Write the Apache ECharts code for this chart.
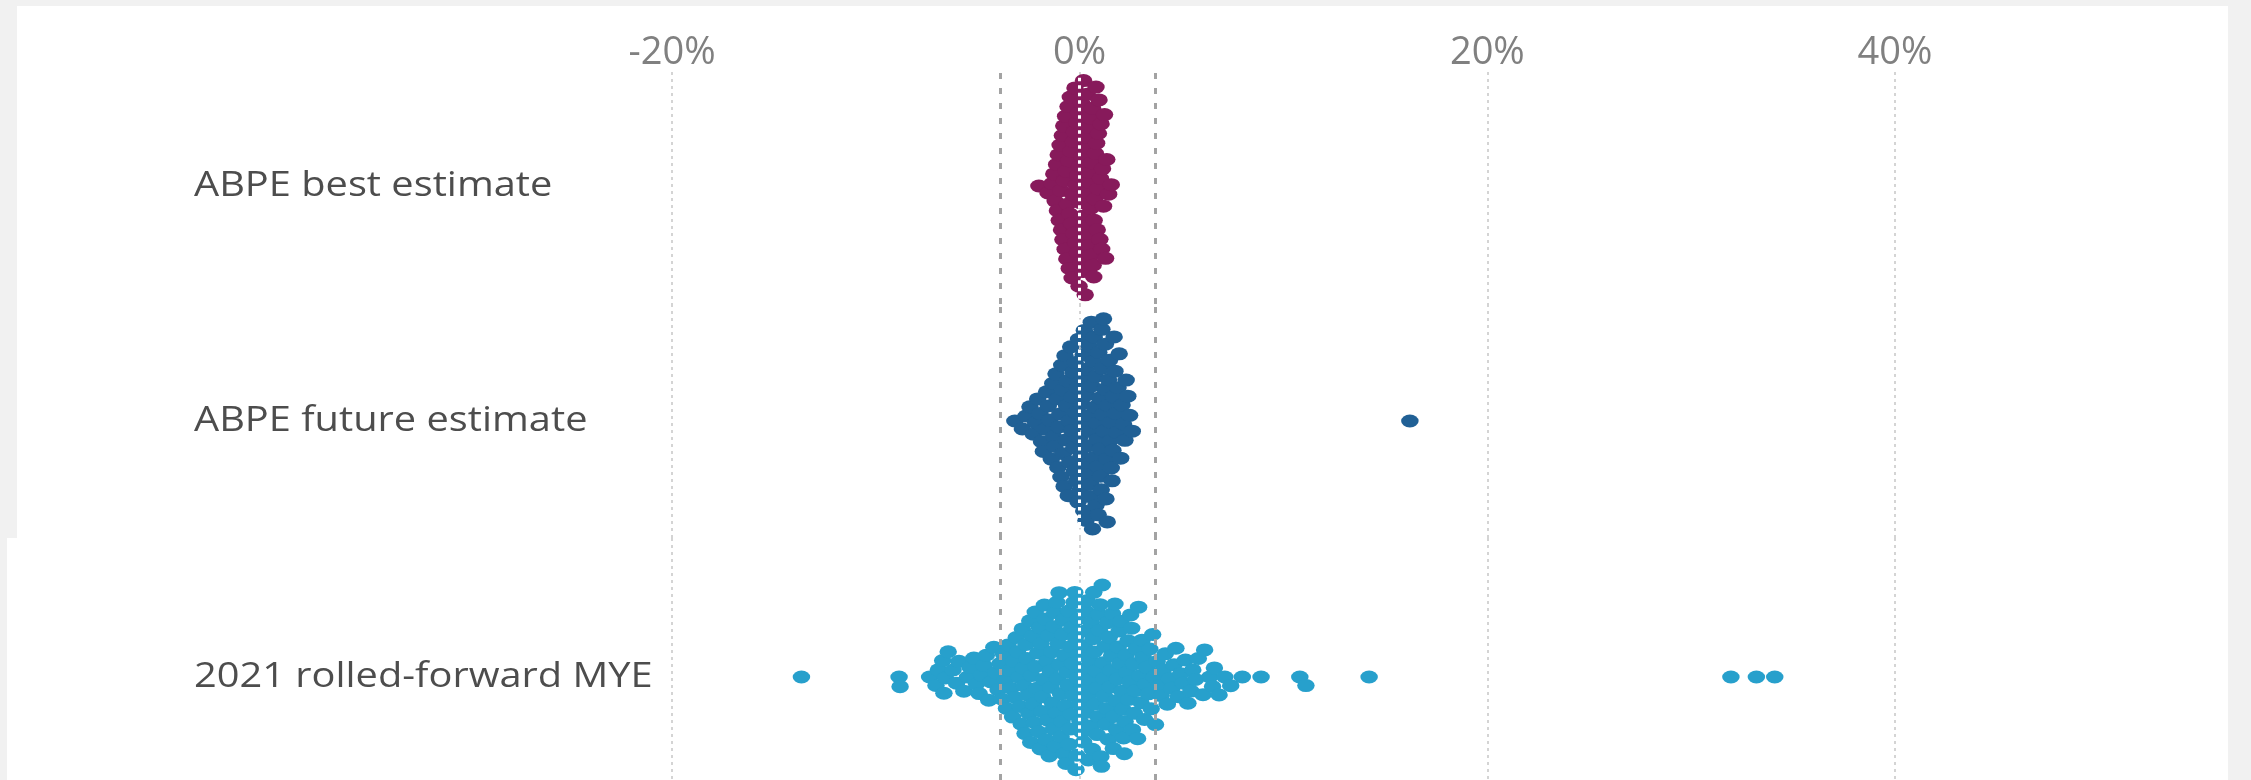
<!DOCTYPE html>
<html>
<head>
<meta charset="utf-8">
<script src="https://cdn.jsdelivr.net/npm/echarts@6/dist/echarts.min.js"></script>
<style>
html,body{margin:0;padding:0;background:#ffffff;}
#chart{width:2251px;height:780px;}
</style>
</head>
<body>
<div id="chart"></div>
<script>
// ---------- data (percent difference) ----------
const categories = ['ABPE best estimate', 'ABPE future estimate', '2021 rolled-forward MYE'];

const bestEstimate = [
  -2.0, -1.55, -1.36, -1.27, -1.2, -1.13, -1.09, -1.05, -1.0, -0.96, -0.92,
  -0.89, -0.85, -0.82, -0.78, -0.75, -0.71, -0.69, -0.66, -0.63, -0.6, -0.57, -0.54, -0.51,
  -0.49, -0.46, -0.43, -0.4, -0.37, -0.34, -0.31, -0.29, -0.26, -0.23, -0.2, -0.17, -0.14, -0.11,
  -0.09, -0.06, -0.03, 0, 0.03, 0.06, 0.09, 0.11, 0.13, 0.16, 0.19, 0.21, 0.24, 0.27, 0.29,
  0.31, 0.34, 0.37, 0.4, 0.43, 0.46, 0.49, 0.51, 0.54, 0.57, 0.6, 0.63, 0.66, 0.69,
  0.71, 0.74, 0.77, 0.8, 0.83, 0.86, 0.89, 0.92, 0.95, 0.99, 1.02, 1.05, 1.08,
  1.12, 1.17, 1.22, 1.27, 1.33, 1.42, 1.55
];

const futureEstimate = [
  -3.18, -2.81, -2.63, -2.44, -2.27, -2.16, -2.06, -1.95, -1.87, -1.78, -1.69, -1.62, -1.54,
  -1.47, -1.39, -1.32, -1.28, -1.22, -1.16, -1.11, -1.07, -1.02, -0.97, -0.92,
  -0.88, -0.84, -0.8, -0.76, -0.72, -0.68, -0.64, -0.6, -0.56, -0.52, -0.48, -0.44, -0.4, -0.36, -0.32,
  -0.29, -0.26, -0.22, -0.18, -0.15, -0.11, -0.08, -0.05, -0.01, 0.02, 0.06, 0.09,
  0.11, 0.14, 0.17, 0.2, 0.23, 0.26, 0.29, 0.31, 0.34, 0.37, 0.4, 0.43, 0.46, 0.49,
  0.51, 0.54, 0.57, 0.6, 0.63, 0.66, 0.69, 0.71, 0.74, 0.77, 0.8, 0.83, 0.86, 0.89,
  0.91, 0.94, 0.97, 1.0, 1.03, 1.06, 1.09, 1.11, 1.14, 1.17, 1.2, 1.23, 1.26, 1.29,
  1.32, 1.35, 1.39, 1.42, 1.46, 1.49, 1.52, 1.55, 1.59, 1.63, 1.66, 1.69,
  1.73, 1.78, 1.83, 1.88, 1.94, 2.01, 2.08, 2.15, 2.22, 2.28, 2.36, 2.45, 2.58, 16.2
];

const rolledForwardMYE = [
  -13.65, -8.86, -8.81,
  -7.36, -7.05, -6.93, -6.72, -6.66, -6.58, -6.45, -6.21, -6.04, -5.92, -5.68, -5.5, -5.37, -5.19,
  -5.06, -4.93, -4.81, -4.69, -4.58, -4.46, -4.35,
  -4.21, -4.12, -4.0, -3.91, -3.8, -3.73, -3.66, -3.59, -3.52, -3.45, -3.37, -3.29,
  -3.23, -3.17, -3.11, -3.05, -2.99, -2.92, -2.86, -2.81, -2.77,
  -2.72, -2.68, -2.63, -2.58, -2.54, -2.49, -2.45, -2.4, -2.36, -2.31, -2.27,
  -2.23, -2.18, -2.14, -2.1, -2.06, -2.02, -1.97, -1.93, -1.89, -1.85, -1.81, -1.77,
  -1.73, -1.69, -1.65, -1.61, -1.57, -1.53, -1.49, -1.45, -1.41, -1.37, -1.33, -1.29, -1.26,
  -1.22, -1.19, -1.15, -1.12, -1.08, -1.05, -1.01, -0.98, -0.94, -0.91, -0.87, -0.84, -0.8, -0.77,
  -0.74, -0.71, -0.67, -0.61, -0.58, -0.54, -0.51, -0.48, -0.44, -0.41, -0.38, -0.34, -0.31, -0.27,
  -0.24, -0.21, -0.18, -0.14, -0.11, -0.08, -0.04, -0.01, 0.02, 0.09, 0.12, 0.16, 0.19, 0.22,
  0.26, 0.29, 0.32, 0.36, 0.39, 0.42, 0.49, 0.52, 0.56, 0.59, 0.62, 0.66, 0.69, 0.72,
  0.76, 0.79, 0.83, 0.86, 0.9, 0.93, 0.97, 1.0, 1.04, 1.07, 1.11, 1.14, 1.18, 1.21,
  1.25, 1.29, 1.33, 1.37, 1.41, 1.45, 1.49, 1.53, 1.57, 1.61, 1.65, 1.69, 1.73,
  1.77, 1.81, 1.85, 1.89, 1.94, 1.98, 2.02, 2.07, 2.11, 2.15, 2.19, 2.23,
  2.28, 2.32, 2.37, 2.41, 2.46, 2.5, 2.55, 2.59, 2.64, 2.68, 2.73,
  2.78, 2.84, 2.89, 2.95, 3.01, 3.06, 3.12, 3.18, 3.23,
  3.29, 3.37, 3.44, 3.51, 3.58, 3.65, 3.72,
  3.8, 3.9, 4.0, 4.1, 4.2,
  4.3, 4.41, 4.52, 4.63, 4.72, 4.84, 4.96, 5.08, 5.19, 5.31, 5.46, 5.55, 5.68,
  5.82, 6.05, 6.13, 6.38, 6.52, 6.61, 6.84, 7.12, 7.41,
  7.98, 8.9, 10.8, 11.1, 14.2, 31.95, 33.2, 34.1
];

const seriesValues = [bestEstimate, futureEstimate, rolledForwardMYE];
const xTickValues = [-20, 0, 20, 40];
const bandLimits = [-3.9, 3.7];

// ---------- styling / layout ----------
const colors = ['#871A5B', '#206095', '#27A0CC'];
const W = 2251;
const gridLeft = 672, gridRight = 356;
const rows = [
  { top: 72, center: 186, bottom: 304 },
  { top: 304, center: 421, bottom: 538 },
  { top: 538, center: 677, bottom: 780 }
];
const dotSize = [17.5, 13];
const collide = [13, 9.75];

const chart = echarts.init(document.getElementById('chart'), null, { renderer: 'canvas' });

const grids = rows.map(r => ({ left: gridLeft, right: gridRight, top: r.top, height: r.bottom - r.top, containLabel: false }));
const xAxes = rows.map((r, i) => ({
  type: 'value', gridIndex: i, position: 'top',
  min: xTickValues[0], max: xTickValues[xTickValues.length - 1], interval: 20,
  axisLine: { show: false }, axisTick: { show: false },
  axisLabel: {
    show: i === 0, formatter: '{value}%', margin: 0,
    color: '#808080', fontFamily: 'Open Sans', fontSize: 38
  },
  splitLine: { show: true, lineStyle: { color: '#d4d4d4', width: 2, type: [3, 4] } }
}));
const yAxes = rows.map((r, i) => ({
  type: 'value', gridIndex: i, show: false,
  min: -(r.bottom - r.center), max: r.center - r.top
}));

const graphics = [
  { type: 'rect', silent: true, shape: { x: 0, y: 0, width: W, height: 6 }, style: { fill: '#f1f1f1' } },
  { type: 'rect', silent: true, shape: { x: 2228, y: 0, width: 23, height: 780 }, style: { fill: '#f1f1f1' } },
  { type: 'rect', silent: true, shape: { x: 0, y: 0, width: 17, height: 538 }, style: { fill: '#f1f1f1' } },
  { type: 'rect', silent: true, shape: { x: 0, y: 538, width: 7, height: 242 }, style: { fill: '#f1f1f1' } }
].concat(categories.map((c, i) => ({
  type: 'text', silent: true, x: 194, y: rows[i].center, scaleX: 1.17,
  style: { text: c, fontFamily: 'Open Sans', fontSize: 34, fill: '#4d4d4d', align: 'left', verticalAlign: 'middle' }
})));

chart.setOption({
  animation: false,
  backgroundColor: '#ffffff',
  grid: grids, xAxis: xAxes, yAxis: yAxes,
  graphic: graphics,
  series: []
});

// ---------- beeswarm layout through the axis scale ----------
function swarm(values) {
  const k = collide[0] / collide[1];
  const d = collide[0], d2 = d * d;
  const pts = values.map((v, i) => ({ i, v, x: chart.convertToPixel({ xAxisIndex: 0 }, v), yn: 0 }));
  const order = pts.slice().sort((a, b) => a.x - b.x);
  const placed = [];
  for (const p of order) {
    const near = placed.filter(q => Math.abs(q.x - p.x) < d);
    const cands = [0];
    for (const q of near) {
      const dy = Math.sqrt(d2 - (q.x - p.x) * (q.x - p.x));
      cands.push(q.yn + dy, q.yn - dy);
    }
    cands.sort((a, b) => (Math.abs(a) - Math.abs(b)) || (a - b));
    for (const c of cands) {
      if (near.every(q => (q.x - p.x) * (q.x - p.x) + (q.yn - c) * (q.yn - c) >= d2 - 1e-6)) { p.yn = c; break; }
    }
    placed.push(p);
  }
  return pts.map(p => [p.v, p.yn / k]);
}

const series = seriesValues.map((vals, i) => {
  const data = swarm(vals);
  const ys = data.map(d => d[1]);
  const yMin = Math.min.apply(null, ys), yMax = Math.max.apply(null, ys);
  return {
    type: 'scatter', name: categories[i], xAxisIndex: i, yAxisIndex: i,
    data: data, symbol: 'circle', symbolSize: dotSize, clip: false,
    itemStyle: { color: colors[i], opacity: 1 },
    markLine: {
      silent: true, symbol: 'none', z: 10, animation: false,
      label: { show: false },
      data: [
        { xAxis: bandLimits[0], lineStyle: { color: '#a3a3a3', width: 3, type: [6, 9] } },
        { xAxis: bandLimits[1], lineStyle: { color: '#a3a3a3', width: 3, type: [6, 9] } },
        [
          { coord: [0, yMin - 4], lineStyle: { color: '#ffffff', width: 3, type: [3.5, 4] } },
          { coord: [0, yMax + 4] }
        ]
      ]
    }
  };
});

chart.setOption({ series: series });
</script>
</body>
</html>
